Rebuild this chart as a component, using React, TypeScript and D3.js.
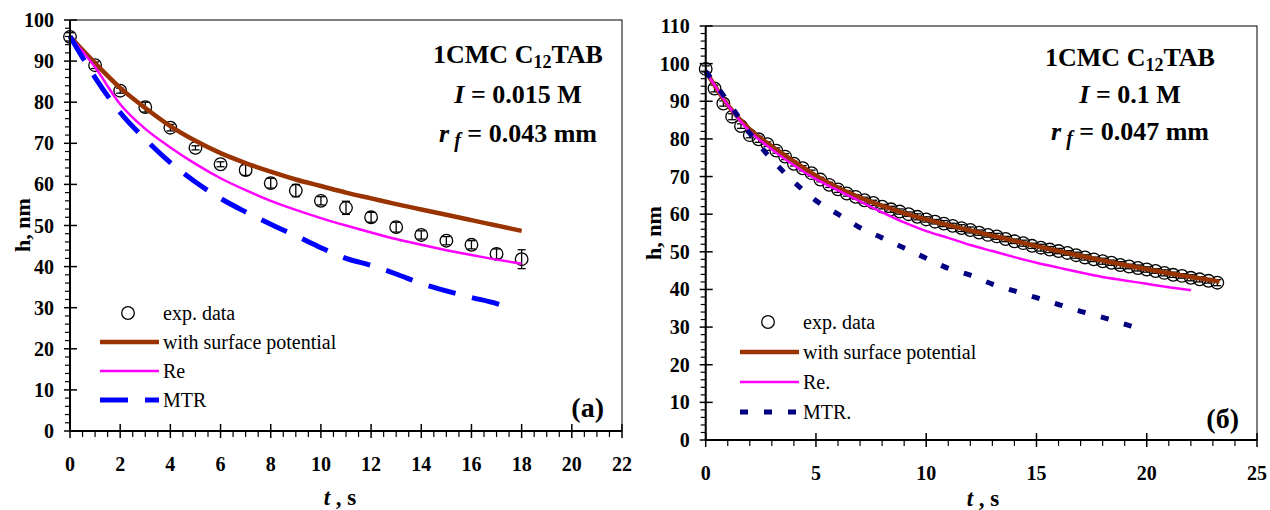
import React from "react";
import * as d3 from "d3";

// ---------- Panel (a) data ----------
const expTimeA = [0, 1, 2, 3, 4, 5, 6, 7, 8, 9, 10, 11, 12, 13, 14, 15, 16, 17, 18];
const expHA = [95.9, 89.0, 82.8, 78.8, 73.8, 68.9, 64.9, 63.5, 60.3, 58.5, 56.0, 54.3, 52.0, 49.6, 47.7, 46.3, 45.3, 43.1, 41.8];
const expErrA = [1.0, 0.8, 0.6, 1.2, 0.8, 0.5, 0.6, 1.3, 1.2, 1.5, 1.0, 1.6, 1.2, 1.2, 1.0, 1.0, 1.0, 1.2, 2.3];

const modelTimeA = [0, 1, 2, 3, 4, 5, 6, 7, 8, 9, 10, 11, 12, 13, 14, 15, 16, 17, 18];
const surfaceA = [96, 89.5, 83.5, 78.6, 74.2, 70.6, 67.6, 65.2, 63.1, 61.2, 59.6, 58.0, 56.6, 55.2, 53.9, 52.6, 51.3, 50.0, 48.7];
const reA = [96, 88.5, 79.5, 73.5, 69.0, 65.0, 61.5, 58.6, 56.0, 53.8, 51.8, 50.0, 48.3, 46.7, 45.3, 44.0, 42.8, 41.7, 40.7];
const mtrTimeA = [0, 1, 2, 3, 4, 5, 6, 7, 8, 9, 10, 11, 12, 13, 14, 15, 16, 17, 17.6];
const mtrA = [96, 86.0, 77.5, 71.0, 65.3, 60.6, 56.6, 53.3, 50.3, 47.5, 44.6, 42.0, 40.3, 38.2, 35.9, 34.1, 32.5, 31.0, 29.8];

// ---------- Panel (б) data ----------
const expTimeB = [0, 0.4, 0.8, 1.2, 1.6, 2.0, 2.4, 2.8, 3.2, 3.6, 4.0, 4.4, 4.8, 5.2, 5.6, 6.0, 6.4, 6.8, 7.2, 7.6,
  8.0, 8.4, 8.8, 9.2, 9.6, 10.0, 10.4, 10.8, 11.2, 11.6, 12.0, 12.4, 12.8, 13.2, 13.6, 14.0, 14.4, 14.8, 15.2, 15.6,
  16.0, 16.4, 16.8, 17.2, 17.6, 18.0, 18.4, 18.8, 19.2, 19.6, 20.0, 20.4, 20.8, 21.2, 21.6, 22.0, 22.4, 22.8, 23.2];
const expHB = [98.6, 93.4, 89.4, 85.9, 83.4, 81.0, 79.9, 78.6, 76.9, 75.3, 73.4, 72.2, 70.9, 69.2, 67.8, 66.6, 65.5, 64.6, 63.7, 63.0,
  62.0, 61.3, 60.7, 60.0, 59.3, 58.6, 58.0, 57.5, 56.9, 56.3, 55.8, 55.1, 54.5, 54.1, 53.4, 52.8, 52.3, 51.6, 51.1, 50.6,
  50.2, 49.7, 49.1, 48.5, 48.0, 47.5, 47.1, 46.5, 46.1, 45.7, 45.3, 44.9, 44.4, 43.9, 43.6, 43.1, 42.7, 42.3, 41.8];
const expErrB = [0.8, 0.9, 0.7, 0.8, 0.6, 0.7, 0.8, 0.6, 0.7, 0.8, 0.6, 0.7, 0.8, 0.6, 0.7, 0.8, 0.7, 0.6, 0.8, 0.7,
  0.6, 0.8, 0.7, 0.6, 0.8, 0.7, 0.6, 0.8, 0.7, 0.9, 0.8, 0.7, 0.6, 0.8, 0.7, 0.6, 0.8, 0.7, 0.9, 0.8,
  0.7, 0.6, 0.8, 0.7, 0.6, 0.8, 0.7, 0.9, 0.6, 0.8, 0.7, 0.6, 0.8, 0.7, 0.6, 0.8, 0.7, 0.6, 0.8];

const surfTimeB = [0, 1, 2, 3, 4, 5, 6, 7, 8, 9, 10, 11, 12, 13, 14, 15, 16, 17, 18, 19, 20, 21, 22, 23, 23.3];
const surfaceB = [98, 89.0, 82.5, 78.0, 74.0, 70.2, 67.0, 64.4, 62.2, 60.3, 58.6, 57.1, 55.7, 54.3, 52.9, 51.5, 50.2, 48.9, 47.7, 46.5, 45.4, 44.3, 43.3, 42.4, 42.0];
const reTimeB = [0, 1, 2, 3, 4, 5, 6, 7, 8, 9, 10, 11, 12, 13, 14, 15, 16, 17, 18, 19, 20, 21, 22];
const reB = [98, 89.0, 82.0, 77.2, 73.0, 69.3, 66.3, 63.4, 60.5, 57.8, 55.5, 53.7, 51.8, 50.2, 48.6, 47.1, 45.8, 44.5, 43.3, 42.4, 41.5, 40.6, 39.8];
const mtrTimeB = [0, 1, 2, 3, 4, 5, 6, 7, 8, 9, 10, 11, 12, 13, 14, 15, 16, 17, 18, 19, 20];
const mtrB = [98, 90.0, 81.5, 74.5, 68.6, 63.6, 60.0, 56.4, 53.7, 51.0, 48.3, 45.6, 43.8, 41.4, 39.6, 37.8, 36.0, 34.2, 32.6, 30.8, 29.0];

const legendLabelsA = ["exp. data", "with surface potential", "Re", "MTR"];
const legendLabelsB = ["exp. data", "with surface potential", "Re.", "MTR."];

const FONT = "'Liberation Serif', 'Times New Roman', serif";
const BROWN = "#993300";
const MAGENTA = "#FF00FF";

type Series = { t: number[]; h: number[]; color: string; width: number; dash?: string };

type PanelProps = {
  xDomain: [number, number];
  yDomain: [number, number];
  xRange: [number, number];
  yRange: [number, number];
  xMajor: number;
  xMinor: number;
  yMajor: number;
  yMinor: number;
  expT: number[];
  expH: number[];
  expE: number[];
  series: Series[];
  legendLabels: string[];
  legendX: number;
  legendY: number;
  legendStep: number;
  ann: { x: number; y: number[]; I: string; rf: string };
  panelLabel: string;
  panelLabelPos: [number, number];
  yTitlePos: [number, number];
  xTitlePos: [number, number];
};

function Panel(p: PanelProps) {
  const x = d3.scaleLinear().domain(p.xDomain).range(p.xRange);
  const y = d3.scaleLinear().domain(p.yDomain).range(p.yRange);
  const x0 = p.xRange[0], x1 = p.xRange[1];
  const y0 = p.yRange[0], y1 = p.yRange[1];

  const xMajorTicks = d3.range(p.xDomain[0], p.xDomain[1] + 1e-9, p.xMajor);
  const xMinorTicks = d3.range(p.xDomain[0], p.xDomain[1] + 1e-9, p.xMinor).filter(v => Math.abs(v / p.xMajor - Math.round(v / p.xMajor)) > 1e-6);
  const yMajorTicks = d3.range(p.yDomain[0], p.yDomain[1] + 1e-9, p.yMajor);
  const yMinorTicks = d3.range(p.yDomain[0], p.yDomain[1] + 1e-9, p.yMinor).filter(v => Math.abs(v / p.yMajor - Math.round(v / p.yMajor)) > 1e-6);

  const line = d3.line<[number, number]>().x(d => x(d[0])).y(d => y(d[1])).curve(d3.curveMonotoneX);

  return (
    <g fontFamily={FONT}>
      {/* frame */}
      <rect x={x0} y={y1} width={x1 - x0} height={y0 - y1} fill="none" stroke="#000" strokeWidth={1} />
      {/* exp data */}
      {p.expT.map((t, i) => {
        const cx = x(t), cy = y(p.expH[i]);
        const top = y(p.expH[i] + p.expE[i]), bot = y(p.expH[i] - p.expE[i]);
        return (
          <g key={"e" + i} stroke="#000" strokeWidth={1.3} fill="none">
            <line x1={cx} x2={cx} y1={top} y2={bot} />
            <line x1={cx - 4} x2={cx + 4} y1={top} y2={top} />
            <line x1={cx - 4} x2={cx + 4} y1={bot} y2={bot} />
            <circle cx={cx} cy={cy} r={6.3} />
          </g>
        );
      })}
      {/* model lines */}
      {p.series.map((s, i) => (
        <path key={"s" + i} d={line(s.t.map((t, j) => [t, s.h[j]] as [number, number])) || ""}
          fill="none" stroke={s.color} strokeWidth={s.width} strokeDasharray={s.dash} />
      ))}
      {/* axes */}
      <line x1={x0} x2={x1} y1={y0} y2={y0} stroke="#000" strokeWidth={2} />
      <line x1={x0} x2={x0} y1={y0} y2={y1} stroke="#000" strokeWidth={2} />
      {xMajorTicks.map((v, i) => (
        <g key={"xm" + i}>
          <line x1={x(v)} x2={x(v)} y1={y0 - 7} y2={y0 + 7} stroke="#000" strokeWidth={1.5} />
          <text x={x(v)} y={y0 + 40} textAnchor="middle" fontSize={20} fontWeight="bold">{v}</text>
        </g>
      ))}
      {xMinorTicks.map((v, i) => (
        <line key={"xn" + i} x1={x(v)} x2={x(v)} y1={y0} y2={y0 + 6} stroke="#000" strokeWidth={1.2} />
      ))}
      {yMajorTicks.map((v, i) => (
        <g key={"ym" + i}>
          <line x1={x0 - 6} x2={x0 + 7} y1={y(v)} y2={y(v)} stroke="#000" strokeWidth={1.5} />
          <text x={x0 - 16} y={y(v)} dy="0.35em" textAnchor="end" fontSize={20} fontWeight="bold">{v}</text>
        </g>
      ))}
      {yMinorTicks.map((v, i) => (
        <line key={"yn" + i} x1={x0 - 5} x2={x0} y1={y(v)} y2={y(v)} stroke="#000" strokeWidth={1.2} />
      ))}
      {/* axis titles */}
      <text transform={`translate(${p.yTitlePos[0]},${p.yTitlePos[1]}) rotate(-90)`} textAnchor="middle" fontSize={22} fontWeight="bold" dy="0.35em">h, nm</text>
      <text x={p.xTitlePos[0]} y={p.xTitlePos[1]} textAnchor="middle" fontSize={23} fontWeight="bold">
        <tspan fontStyle="italic">t</tspan> , s
      </text>
      {/* legend */}
      {p.legendLabels.map((lab, i) => {
        const ly = p.legendY + i * p.legendStep;
        return (
          <g key={"l" + i}>
            {i === 0 ? (
              <circle cx={p.legendX - 35} cy={ly} r={6.3} fill="none" stroke="#000" strokeWidth={1.3} />
            ) : (
              <line x1={p.legendX - 63} x2={p.legendX - 4} y1={ly} y2={ly}
                stroke={p.series[i - 1].color} strokeWidth={p.series[i - 1].width} strokeDasharray={p.series[i - 1].dash} />
            )}
            <text x={p.legendX} y={ly} dy="0.33em" fontSize={20}>{lab}</text>
          </g>
        );
      })}
      {/* annotation */}
      <text x={p.ann.x} y={p.ann.y[0]} textAnchor="middle" fontSize={26} fontWeight="bold">
        <tspan>1CMC C</tspan><tspan dy={5} fontSize={18}>12</tspan><tspan dy={-5}>TAB</tspan>
      </text>
      <text x={p.ann.x} y={p.ann.y[1]} textAnchor="middle" fontSize={26} fontWeight="bold">
        <tspan fontStyle="italic">I</tspan><tspan> = {p.ann.I}</tspan>
      </text>
      <text x={p.ann.x} y={p.ann.y[2]} textAnchor="middle" fontSize={26} fontWeight="bold">
        <tspan fontStyle="italic">r</tspan><tspan fontStyle="italic" fontSize={20} dy={5}> f</tspan><tspan dy={-5}> = {p.ann.rf}</tspan>
      </text>
      <text x={p.panelLabelPos[0]} y={p.panelLabelPos[1]} textAnchor="end" fontSize={28} fontWeight="bold">{p.panelLabel}</text>
    </g>
  );
}

export default function App() {
  return (
    <svg width={1270} height={510} style={{ position: "absolute", left: 0, top: 0, background: "#fff" }}>
      <rect x={0} y={0} width={1270} height={510} fill="#fff" />
      <Panel
        xDomain={[0, 22]} yDomain={[0, 100]} xRange={[70, 622]} yRange={[431, 20]}
        xMajor={2} xMinor={0.5} yMajor={10} yMinor={2}
        expT={expTimeA} expH={expHA} expE={expErrA}
        series={[
          { t: modelTimeA, h: surfaceA, color: BROWN, width: 4.5 },
          { t: modelTimeA, h: reA, color: MAGENTA, width: 2.5 },
          { t: mtrTimeA, h: mtrA, color: "#0000FF", width: 5, dash: "28 17" },
        ]}
        legendLabels={legendLabelsA} legendX={163} legendY={313} legendStep={29}
        ann={{ x: 518, y: [63, 103, 142], I: "0.015 M", rf: "0.043 mm" }}
        panelLabel="(a)" panelLabelPos={[604, 417]}
        yTitlePos={[22, 225]} xTitlePos={[340, 505]}
      />
      <Panel
        xDomain={[0, 25]} yDomain={[0, 110]} xRange={[705.7, 1257]} yRange={[440, 26]}
        xMajor={5} xMinor={1} yMajor={10} yMinor={2}
        expT={expTimeB} expH={expHB} expE={expErrB}
        series={[
          { t: surfTimeB, h: surfaceB, color: BROWN, width: 4.5 },
          { t: reTimeB, h: reB, color: MAGENTA, width: 2.5 },
          { t: mtrTimeB, h: mtrB, color: "#000080", width: 5, dash: "8 16" },
        ]}
        legendLabels={legendLabelsB} legendX={803} legendY={322} legendStep={30}
        ann={{ x: 1130, y: [66, 103, 140], I: "0.1 M", rf: "0.047 mm" }}
        panelLabel="(б)" panelLabelPos={[1239, 428]}
        yTitlePos={[653, 233]} xTitlePos={[983, 506]}
      />
    </svg>
  );
}
